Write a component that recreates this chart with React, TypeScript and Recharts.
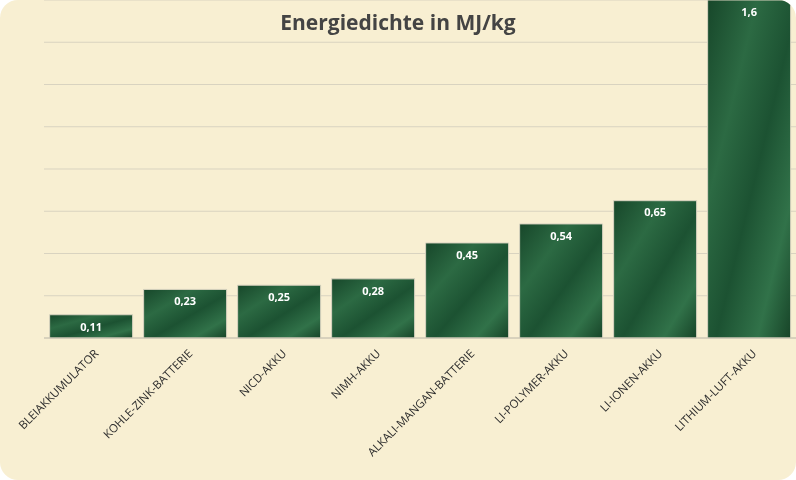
import { BarChart, Bar, XAxis, YAxis, CartesianGrid, LabelList } from 'recharts';

const categories = [
  'BLEIAKKUMULATOR',
  'KOHLE-ZINK-BATTERIE',
  'NICD-AKKU',
  'NIMH-AKKU',
  'ALKALI-MANGAN-BATTERIE',
  'LI-POLYMER-AKKU',
  'LI-IONEN-AKKU',
  'LITHIUM-LUFT-AKKU',
];
const values = [0.11, 0.23, 0.25, 0.28, 0.45, 0.54, 0.65, 1.6];
const yTicks = [0, 0.2, 0.4, 0.6, 0.8, 1, 1.2, 1.4, 1.6];

const data = categories.map((c, i) => ({ name: c, value: values[i] }));

const fmt = (v: number) => String(v).replace('.', ',');

function AngledTick({ x, y, payload }: any) {
  return (
    <text
      x={x + 4}
      y={y + 4}
      transform={`rotate(-45 ${x + 4} ${y + 4})`}
      textAnchor="end"
      fontSize={11.5}
      fill="#2e2e2e"
      fontFamily="'Open Sans', sans-serif"
      dy={6}
    >
      {payload.value}
    </text>
  );
}

export default function App() {
  return (
    <div
      style={{
        position: 'fixed',
        left: 0,
        top: 0,
        width: 796,
        height: 480,
        background: '#f8efd2',
        borderRadius: 18,
        overflow: 'hidden',
      }}
    >
      <div
        style={{
          position: 'absolute',
          top: 8,
          width: '100%',
          textAlign: 'center',
          fontFamily: "'Open Sans', sans-serif",
          fontWeight: 700,
          fontSize: 21,
          color: '#444',
        }}
      >
        Energiedichte in MJ/kg
      </div>
      <div style={{ position: 'absolute', left: 0, top: 0 }}>
        <BarChart
          width={796}
          height={480}
          data={data}
          margin={{ top: 0, right: 0, left: 44, bottom: 0 }}
          barCategoryGap="6%"
        >
          <defs>
            <linearGradient id="marble" x1="0" y1="0" x2="1" y2="1">
              <stop offset="0%" stopColor="#17472a" />
              <stop offset="30%" stopColor="#2c6a43" />
              <stop offset="55%" stopColor="#1c5232" />
              <stop offset="80%" stopColor="#317249" />
              <stop offset="100%" stopColor="#174428" />
            </linearGradient>
          </defs>
          <CartesianGrid vertical={false} stroke="#d9d3c0" />
          <XAxis
            dataKey="name"
            interval={0}
            height={142}
            tick={<AngledTick />}
            tickLine={false}
            axisLine={{ stroke: '#c8c2b0' }}
          />
          <YAxis hide domain={[0, 1.6]} ticks={yTicks} />
          <Bar dataKey="value" fill="url(#marble)" stroke="#d9d3c0" isAnimationActive={false}>
            <LabelList
              dataKey="value"
              position="insideTop"
              offset={8}
              formatter={(v: any) => fmt(Number(v))}
              fill="#ffffff"
              fontSize={11}
              fontWeight={700}
              fontFamily="'Open Sans', sans-serif"
            />
          </Bar>
        </BarChart>
      </div>
    </div>
  );
}
